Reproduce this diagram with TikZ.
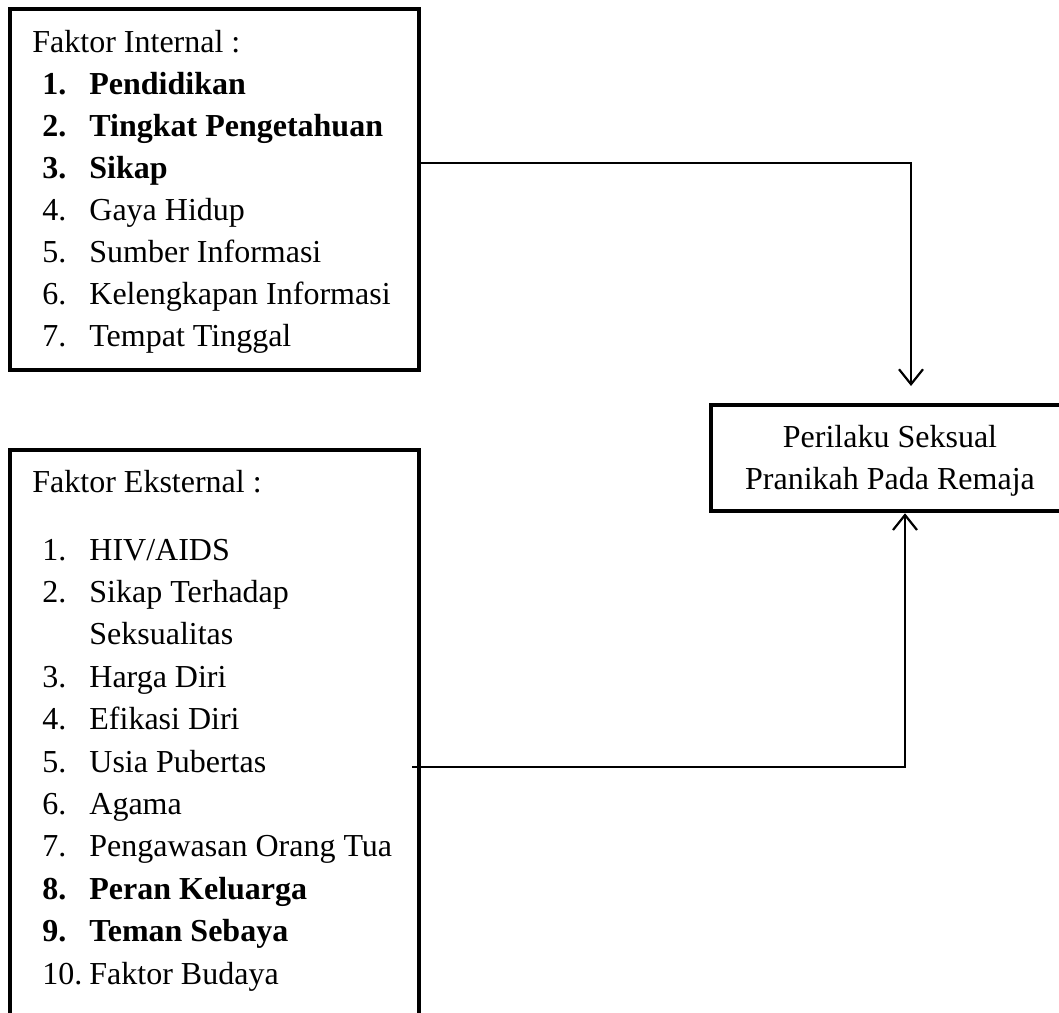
\documentclass[tikz,border=0pt]{standalone}
\usepackage{fontspec}
\setmainfont{Liberation Serif}
\usetikzlibrary{arrows.meta}
\begin{document}
\begin{tikzpicture}[x=0.5pt,y=-0.5pt,
  frame/.style={draw=black, line width=2.25pt, inner sep=0pt, rectangle},
  txt/.style={anchor=base west, inner sep=0pt, font=\fontsize{16}{19}\selectfont},
  btxt/.style={txt, font=\fontsize{16}{19}\selectfont\bfseries},
  ctxt/.style={anchor=base, inner sep=0pt, font=\fontsize{16}{19}\selectfont},
  conn/.style={line width=1.1pt, -{Straight Barb[length=7.5pt,width=12pt,line width=1.1pt]}}]
\useasboundingbox (0,0) rectangle (1059,1012);
\clip (0,0) rectangle (1059,1012);

% boxes
\node[frame, minimum width=204.5pt, minimum height=180.5pt] (int) at (214.5,189.5) {};
\node[frame, minimum width=204.5pt, minimum height=295pt] (ext) at (214.5,745) {};
\node[frame, minimum width=179pt, minimum height=53pt] (res) at (890,458) {};

% internal factors
\node[txt] (ih) at (32,52) {Faktor Internal :};
\node[btxt] (in1) at (42,94) {1.};   \node[btxt] (it1) at (89,94) {Pendidikan};
\node[btxt] (in2) at (42,136) {2.};  \node[btxt] (it2) at (89,136) {Tingkat Pengetahuan};
\node[btxt] (in3) at (42,178) {3.};  \node[btxt] (it3) at (89,178) {Sikap};
\node[txt] (in4) at (42,220) {4.};   \node[txt] (it4) at (89,220) {Gaya Hidup};
\node[txt] (in5) at (42,262) {5.};   \node[txt] (it5) at (89,262) {Sumber Informasi};
\node[txt] (in6) at (42,304) {6.};   \node[txt] (it6) at (89,304) {Kelengkapan Informasi};
\node[txt] (in7) at (42,346) {7.};   \node[txt] (it7) at (89,346) {Tempat Tinggal};

% external factors
\node[txt] (eh) at (32,492) {Faktor Eksternal :};
\node[txt] (en1) at (42,560) {1.};    \node[txt] (et1) at (89,560) {HIV/AIDS};
\node[txt] (en2) at (42,602.4) {2.};  \node[txt] (et2) at (89,602.4) {Sikap Terhadap};
                                       \node[txt] (et2b) at (89,644.8) {Seksualitas};
\node[txt] (en3) at (42,687.2) {3.};  \node[txt] (et3) at (89,687.2) {Harga Diri};
\node[txt] (en4) at (42,729.6) {4.};  \node[txt] (et4) at (89,729.6) {Efikasi Diri};
\node[txt] (en5) at (42,772) {5.};    \node[txt] (et5) at (89,772) {Usia Pubertas};
\node[txt] (en6) at (42,814.4) {6.};  \node[txt] (et6) at (89,814.4) {Agama};
\node[txt] (en7) at (42,856.8) {7.};  \node[txt] (et7) at (89,856.8) {Pengawasan Orang Tua};
\node[btxt] (en8) at (42,899.2) {8.}; \node[btxt] (et8) at (89,899.2) {Peran Keluarga};
\node[btxt] (en9) at (42,941.6) {9.}; \node[btxt] (et9) at (89,941.6) {Teman Sebaya};
\node[txt] (en10) at (42,984) {10.};  \node[txt] (et10) at (89,984) {Faktor Budaya};

% result
\node[ctxt] (r1) at (890,447) {Perilaku Seksual};
\node[ctxt] (r2) at (890,489) {Pranikah Pada Remaja};

% connectors
\coordinate (k1) at (911,163);
\coordinate (t1) at (911,386);
\draw[conn] (int.east |- k1) -- (k1) -- (t1);

\coordinate (s2) at (412,767);
\coordinate (k2) at (905,767);
\draw[conn] (s2) -- (k2) -- (k2 |- res.south);
\end{tikzpicture}
\end{document}
